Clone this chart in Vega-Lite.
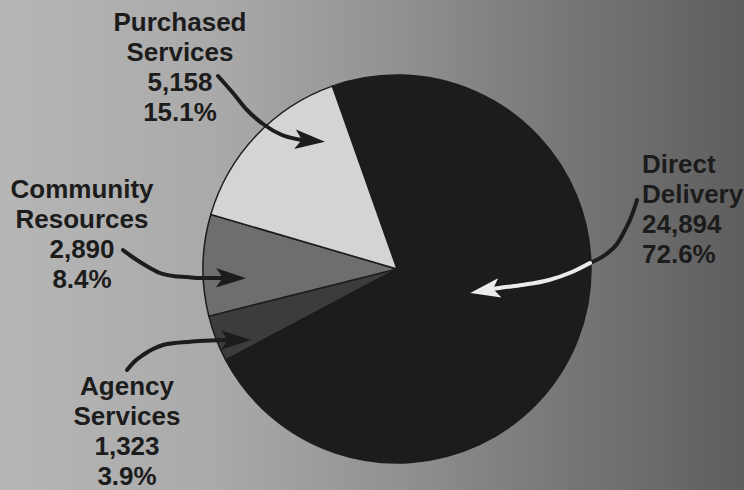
{
  "$schema": "https://vega.github.io/schema/vega-lite/v6.json",
  "width": 744,
  "height": 490,
  "autosize": {"type": "fit", "contains": "padding"},
  "padding": 0,
  "background": "#8f8f8f",
  "config": {
    "view": {
      "stroke": null,
      "fill": {
        "gradient": "linear",
        "x1": 0, "y1": 0, "x2": 1, "y2": 0,
        "stops": [
          {"offset": 0, "color": "#b6b6b6"},
          {"offset": 0.3, "color": "#a9a9a9"},
          {"offset": 0.5, "color": "#959595"},
          {"offset": 0.75, "color": "#787878"},
          {"offset": 1, "color": "#5e5e5e"}
        ]
      }
    },
    "text": {"font": "Liberation Sans", "fontWeight": "bold", "fontSize": 26, "color": "#1c1c1c", "lineHeight": 30}
  },
  "datasets": {
    "slices": [
      {"category": "Direct Delivery", "value": 24894, "order": 1},
      {"category": "Agency Services", "value": 1323, "order": 2},
      {"category": "Community Resources", "value": 2890, "order": 3},
      {"category": "Purchased Services", "value": 5158, "order": 4}
    ],
    "labels": [
      {"category": "Purchased Services", "lines": ["Purchased", "Services", "5,158", "15.1%"], "x": 180, "y": 30.5, "side": "center"},
      {"category": "Community Resources", "lines": ["Community", "Resources", "2,890", "8.4%"], "x": 82, "y": 198, "side": "center"},
      {"category": "Agency Services", "lines": ["Agency", "Services", "1,323", "3.9%"], "x": 127, "y": 395, "side": "center"},
      {"category": "Direct Delivery", "lines": ["Direct", "Delivery", "24,894", "72.6%"], "x": 642, "y": 173, "side": "left"}
    ],
    "arrows": [
      {"arrow": "Purchased", "part": "outside", "seq": 1, "x": 218, "y": 76},
      {"arrow": "Purchased", "part": "outside", "seq": 2, "x": 233, "y": 93},
      {"arrow": "Purchased", "part": "outside", "seq": 3, "x": 247, "y": 110},
      {"arrow": "Purchased", "part": "outside", "seq": 4, "x": 263, "y": 124},
      {"arrow": "Purchased", "part": "outside", "seq": 5, "x": 282, "y": 135},
      {"arrow": "Purchased", "part": "outside", "seq": 6, "x": 302, "y": 140},
      {"arrow": "Community", "part": "outside", "seq": 1, "x": 123, "y": 250},
      {"arrow": "Community", "part": "outside", "seq": 2, "x": 131, "y": 256},
      {"arrow": "Community", "part": "outside", "seq": 3, "x": 140, "y": 262},
      {"arrow": "Community", "part": "outside", "seq": 4, "x": 150, "y": 268},
      {"arrow": "Community", "part": "outside", "seq": 5, "x": 160, "y": 273},
      {"arrow": "Community", "part": "outside", "seq": 6, "x": 173, "y": 276},
      {"arrow": "Community", "part": "outside", "seq": 7, "x": 187, "y": 277},
      {"arrow": "Community", "part": "outside", "seq": 8, "x": 200, "y": 278},
      {"arrow": "Community", "part": "outside", "seq": 9, "x": 222, "y": 278},
      {"arrow": "Agency", "part": "outside", "seq": 1, "x": 127, "y": 370},
      {"arrow": "Agency", "part": "outside", "seq": 2, "x": 134, "y": 362},
      {"arrow": "Agency", "part": "outside", "seq": 3, "x": 143, "y": 355},
      {"arrow": "Agency", "part": "outside", "seq": 4, "x": 153, "y": 349},
      {"arrow": "Agency", "part": "outside", "seq": 5, "x": 163, "y": 345},
      {"arrow": "Agency", "part": "outside", "seq": 6, "x": 175, "y": 343},
      {"arrow": "Agency", "part": "outside", "seq": 7, "x": 187, "y": 342},
      {"arrow": "Agency", "part": "outside", "seq": 8, "x": 200, "y": 341},
      {"arrow": "Agency", "part": "outside", "seq": 9, "x": 226, "y": 340},
      {"arrow": "Direct", "part": "outside", "seq": 1, "x": 637, "y": 200},
      {"arrow": "Direct", "part": "outside", "seq": 2, "x": 632, "y": 215},
      {"arrow": "Direct", "part": "outside", "seq": 3, "x": 625, "y": 230},
      {"arrow": "Direct", "part": "outside", "seq": 4, "x": 617, "y": 244},
      {"arrow": "Direct", "part": "outside", "seq": 5, "x": 605, "y": 255},
      {"arrow": "Direct", "part": "outside", "seq": 6, "x": 590, "y": 263},
      {"arrow": "Direct", "part": "inside", "seq": 1, "x": 590, "y": 263},
      {"arrow": "Direct", "part": "inside", "seq": 2, "x": 572, "y": 272},
      {"arrow": "Direct", "part": "inside", "seq": 3, "x": 549, "y": 280},
      {"arrow": "Direct", "part": "inside", "seq": 4, "x": 522, "y": 285},
      {"arrow": "Direct", "part": "inside", "seq": 5, "x": 499, "y": 288},
      {"arrow": "Direct", "part": "inside", "seq": 6, "x": 488, "y": 290}
    ],
    "heads": [
      {"arrow": "Purchased", "part": "outside", "x": 310, "y": 140.5, "angle": 5},
      {"arrow": "Community", "part": "outside", "x": 231, "y": 278, "angle": 1},
      {"arrow": "Agency", "part": "outside", "x": 236, "y": 340, "angle": 0},
      {"arrow": "Direct", "part": "inside", "x": 485, "y": 290.5, "angle": 170}
    ]
  },
  "encoding": {
    "x": {"type": "quantitative", "scale": {"domain": [0, 744], "nice": false, "zero": false}, "axis": null},
    "y": {"type": "quantitative", "scale": {"domain": [0, 490], "nice": false, "zero": false, "reverse": true}, "axis": null}
  },
  "layer": [
    {
      "data": {"name": "slices"},
      "mark": {"type": "arc", "radius": 194, "stroke": "#1c1c1c", "strokeWidth": 1.5},
      "encoding": {
        "x": {"datum": 397, "type": "quantitative"},
        "y": {"datum": 269, "type": "quantitative"},
        "theta": {"field": "value", "type": "quantitative", "stack": true, "scale": {"range": [-0.3403, 5.9429]}},
        "order": {"field": "order", "type": "quantitative"},
        "fill": {
          "field": "category", "type": "nominal", "legend": null,
          "scale": {
            "domain": ["Direct Delivery", "Agency Services", "Community Resources", "Purchased Services"],
            "range": ["#1c1c1c", "#3c3c3c", "#6e6e6e", "#d4d4d4"]
          }
        }
      }
    },
    {
      "data": {"name": "arrows"},
      "transform": [{"filter": "datum.part == 'outside'"}],
      "mark": {"type": "line", "color": "#1c1c1c", "strokeWidth": 4, "strokeCap": "round", "interpolate": "monotone"},
      "encoding": {
        "x": {"field": "x", "type": "quantitative"},
        "y": {"field": "y", "type": "quantitative"},
        "detail": {"field": "arrow", "type": "nominal"},
        "order": {"field": "seq", "type": "quantitative"}
      }
    },
    {
      "data": {"name": "arrows"},
      "transform": [{"filter": "datum.part == 'inside'"}],
      "mark": {"type": "line", "color": "#ececec", "strokeWidth": 4, "strokeCap": "round", "interpolate": "monotone"},
      "encoding": {
        "x": {"field": "x", "type": "quantitative"},
        "y": {"field": "y", "type": "quantitative"},
        "detail": {"field": "arrow", "type": "nominal"},
        "order": {"field": "seq", "type": "quantitative"}
      }
    },
    {
      "data": {"name": "heads"},
      "transform": [{"filter": "datum.part == 'outside'"}],
      "mark": {"type": "point", "shape": "M1,0 L-1,-0.65 L-0.55,0 L-1,0.65 Z", "filled": true, "size": 900, "color": "#1c1c1c", "opacity": 1, "strokeWidth": 0},
      "encoding": {
        "x": {"field": "x", "type": "quantitative"},
        "y": {"field": "y", "type": "quantitative"},
        "angle": {"field": "angle", "type": "quantitative", "scale": null}
      }
    },
    {
      "data": {"name": "heads"},
      "transform": [{"filter": "datum.part == 'inside'"}],
      "mark": {"type": "point", "shape": "M1,0 L-1,-0.65 L-0.55,0 L-1,0.65 Z", "filled": true, "size": 900, "color": "#ececec", "opacity": 1, "strokeWidth": 0},
      "encoding": {
        "x": {"field": "x", "type": "quantitative"},
        "y": {"field": "y", "type": "quantitative"},
        "angle": {"field": "angle", "type": "quantitative", "scale": null}
      }
    },
    {
      "data": {"name": "labels"},
      "transform": [{"filter": "datum.side == 'center'"}],
      "mark": {"type": "text", "align": "center", "baseline": "alphabetic"},
      "encoding": {
        "x": {"field": "x", "type": "quantitative"},
        "y": {"field": "y", "type": "quantitative"},
        "text": {"field": "lines", "type": "nominal"}
      }
    },
    {
      "data": {"name": "labels"},
      "transform": [{"filter": "datum.side == 'left'"}],
      "mark": {"type": "text", "align": "left", "baseline": "alphabetic"},
      "encoding": {
        "x": {"field": "x", "type": "quantitative"},
        "y": {"field": "y", "type": "quantitative"},
        "text": {"field": "lines", "type": "nominal"}
      }
    }
  ]
}
